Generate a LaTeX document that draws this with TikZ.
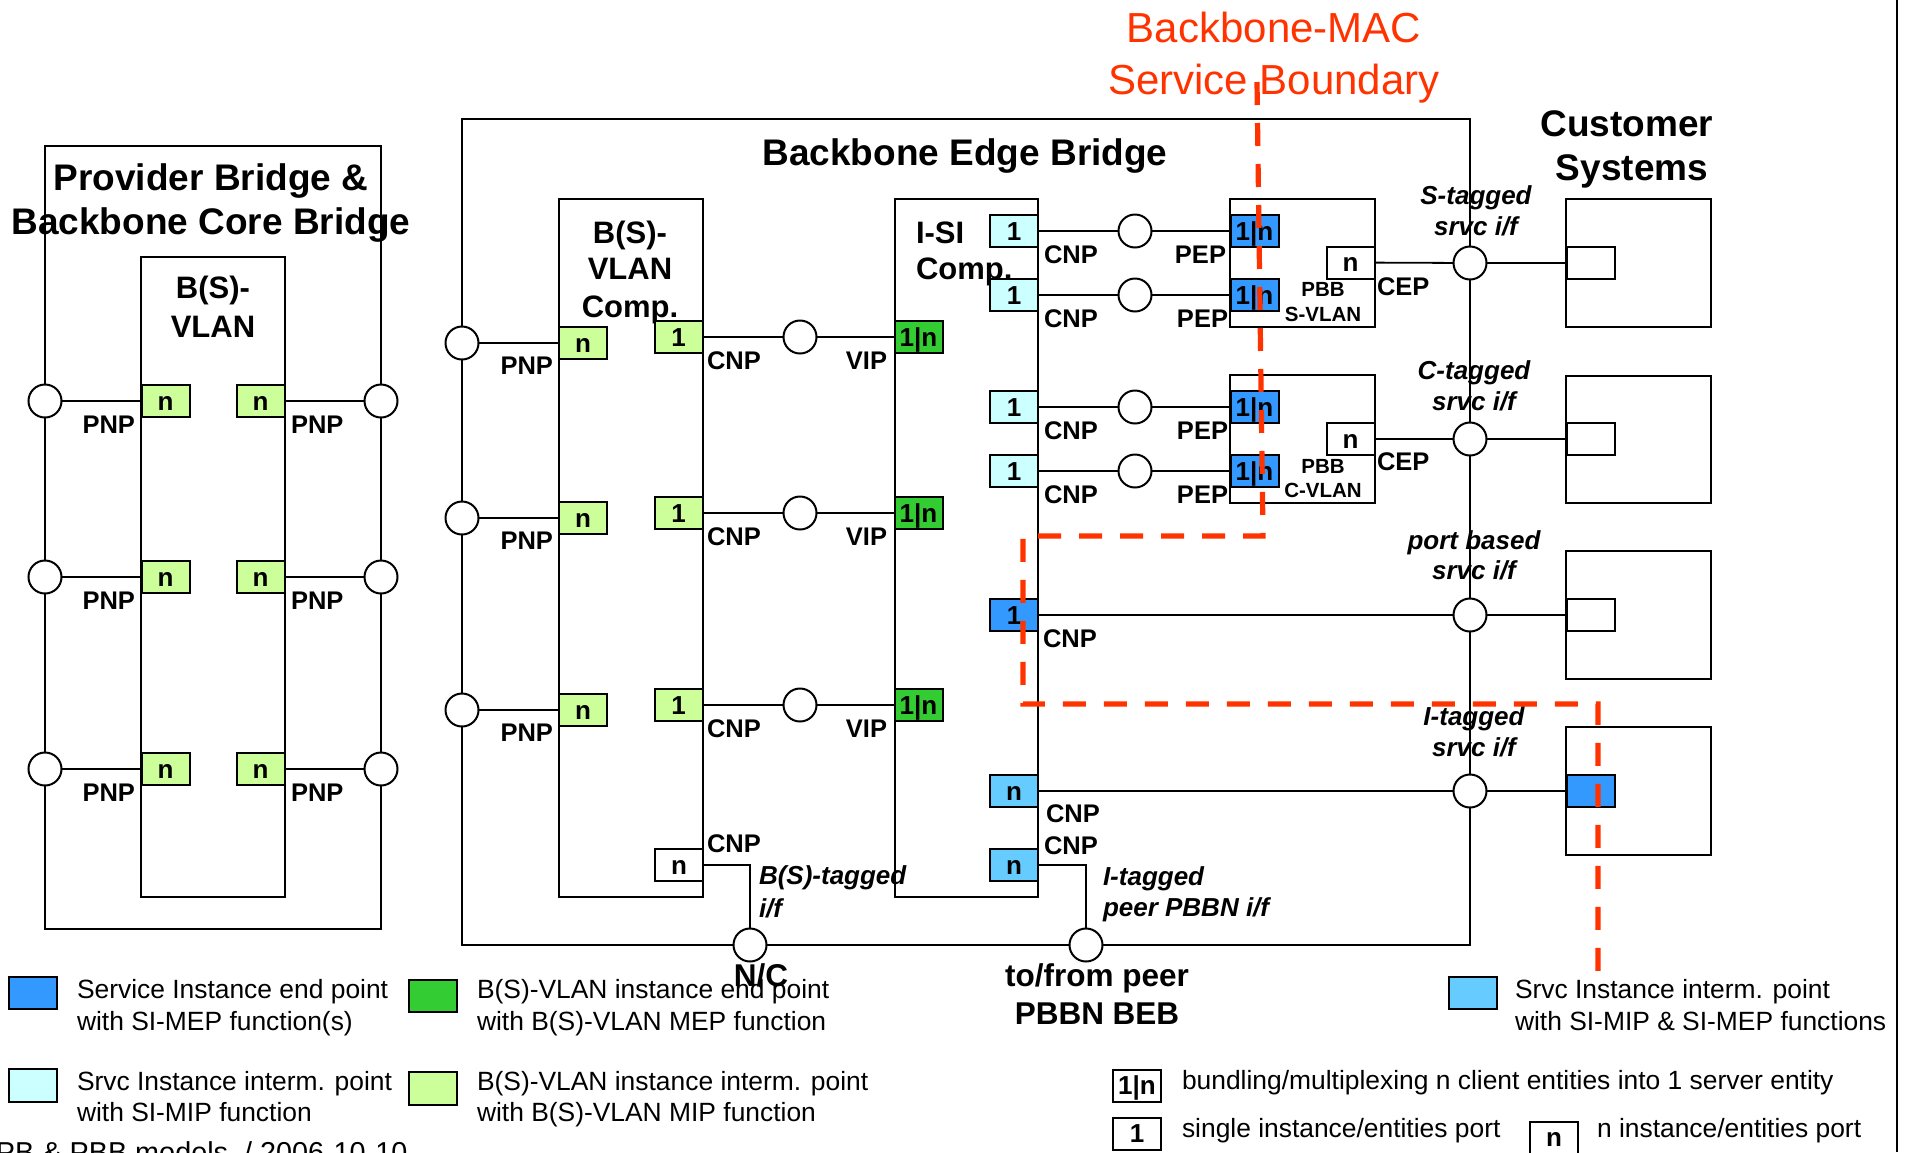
\documentclass[tikz,border=0pt]{standalone}
\usepackage{fontspec}
\setmainfont{Liberation Sans}
\usetikzlibrary{fit}
\definecolor{cBlue}{HTML}{3399FF}
\definecolor{cCyan}{HTML}{CCFFFF}
\definecolor{cGreen}{HTML}{33CC33}
\definecolor{cLGreen}{HTML}{CCFF99}
\definecolor{cLBlue}{HTML}{66CCFF}
\definecolor{cRed}{HTML}{FF3300}
\tikzset{
  every node/.style={inner sep=0pt, outer sep=0pt},
  fT/.style={font=\fontsize{18.5pt}{22pt}\selectfont\bfseries, text height=13.2pt, text depth=0pt},
  fC/.style={font=\fontsize{15.5pt}{18pt}\selectfont\bfseries, text height=11.1pt, text depth=0pt},
  fP/.style={font=\fontsize{12.75pt}{15pt}\selectfont\bfseries, text height=9.1pt, text depth=0pt},
  fS/.style={font=\fontsize{10.25pt}{12pt}\selectfont\bfseries, text height=7.3pt, text depth=0pt},
  fI/.style={font=\fontsize{13pt}{15pt}\selectfont\bfseries\itshape, text height=9.3pt, text depth=0pt},
  fB/.style={font=\fontsize{15.75pt}{18pt}\selectfont\bfseries, text height=11.3pt, text depth=0pt},
  fR/.style={font=\fontsize{21pt}{25pt}\selectfont, text=cRed, text height=15pt, text depth=0pt},
  fL/.style={font=\fontsize{13.2pt}{15pt}\selectfont, text height=9.45pt, text depth=0pt},
  fF/.style={font=\fontsize{14.4pt}{17pt}\selectfont, text height=10.3pt, text depth=0pt},
  cbox/.style={draw, line width=1pt},
  port/.style={draw, line width=1pt, minimum width=24pt, minimum height=16pt, font=\fontsize{13pt}{15pt}\selectfont\bfseries, text height=9.3pt, text depth=0pt},
  lgbox/.style={draw, line width=1.4pt, minimum width=24pt, minimum height=16pt},
  circ/.style={circle, draw, fill=white, line width=1pt, minimum size=16.5pt},
  conn/.style={line width=0.9pt},
  bound/.style={draw=cRed, line width=2.6pt, dash pattern=on 11.5pt off 9pt},
}
\begin{document}
\begin{tikzpicture}[x=0.5pt,y=-0.5pt]
\useasboundingbox (0,0) rectangle (1911,1152);

% ---------- Provider Bridge & Backbone Core Bridge ----------
\node[cbox, fit={(45,146)(381,929)}] (pb) {};
\node[cbox, fit={(141,257)(285,897)}] (pbv) {};
\node[fT] (pbt1) at (211,177) {Provider Bridge \&};
\node[fT] (pbt2) at (211,221.5) {Backbone Core Bridge};
\node[fC] (pbv1) at (213,287) {B(S)-};
\node[fC] (pbv2) at (213,326) {VLAN};
\foreach \y [count=\i] in {401,577,769}{
  \node[port, fill=cLGreen] (pbl\i) at (165.5,\y) {n};
  \node[port, fill=cLGreen] (pbr\i) at (260.5,\y) {n};
  \node[circ] (pbcl\i) at (45,\y) {};
  \node[circ] (pbcr\i) at (381,\y) {};
  \draw[conn] (pbcl\i) -- (pbl\i);
  \draw[conn] (pbr\i) -- (pbcr\i);
  \node[fP, anchor=east] (pbpl\i) at (135,\y+23) {PNP};
  \node[fP, anchor=west] (pbpr\i) at (291,\y+23) {PNP};
}

% ---------- Backbone Edge Bridge ----------
\node[cbox, fit={(462,119)(1470,945)}] (beb) {};
\node[fT] (bebt) at (965,152) {Backbone Edge Bridge};
\node[cbox, fit={(559,199)(703,897)}] (bsv) {};
\node[fC] (bsvt1) at (630,232) {B(S)-};
\node[fC] (bsvt2) at (630,268) {VLAN};
\node[fC] (bsvt3) at (630,306) {Comp.};
\node[cbox, fit={(895,199)(1038,897)}] (isi) {};
\node[fC, anchor=west] (isit1) at (916,232) {I-SI};
\node[fC, anchor=west] (isit2) at (916,268) {Comp.};

\foreach \yc/\yl [count=\i] in {343/337, 518/513, 710/705}{
  \node[circ] (pnp\i) at (462,\yc) {};
  \node[port, fill=cLGreen] (bn\i) at (583,\yc) {n};
  \node[port, fill=cLGreen] (bo\i) at (678.5,\yl) {1};
  \node[circ] (mc\i) at (800,\yl) {};
  \node[port, fill=cGreen] (vip\i) at (918.5,\yl) {1|n};
  \draw[conn] (pnp\i) -- (bn\i);
  \draw[conn] (bo\i) -- (mc\i) -- (vip\i);
  \node[fP, anchor=east] (lpnp\i) at (553,\yc+22) {PNP};
  \node[fP, anchor=west] (lcnp\i) at (707,\yl+23) {CNP};
  \node[fP, anchor=east] (lvip\i) at (887,\yl+23) {VIP};
}

% PBB components
\node[cbox, fit={(1230,199)(1375,327)}] (pbbs) {};
\node[cbox, fit={(1230,375)(1375,503)}] (pbbc) {};
\node[port, fill=white] (pbsn) at (1350.5,262.5) {n};
\node[port, fill=white] (pbcn) at (1350.5,439) {n};
\node[fS] (pbbs1) at (1323,289) {PBB};
\node[fS] (pbbs2) at (1323,314) {S-VLAN};
\node[fS] (pbbc1) at (1323,466) {PBB};
\node[fS] (pbbc2) at (1323,490) {C-VLAN};
\node[fP, anchor=west] (cep1) at (1377,286) {CEP};
\node[fP, anchor=west] (cep2) at (1377,461) {CEP};

\foreach \y/\px [count=\i] in {231/1226, 295/1228, 407/1228, 471/1228}{
  \node[port, fill=cCyan] (ci\i) at (1014,\y) {1};
  \node[circ] (pc\i) at (1135,\y) {};
  \node[port, fill=cBlue] (pe\i) at (1254.5,\y) {1|n};
  \draw[conn] (ci\i) -- (pc\i) -- (pe\i);
  \node[fP, anchor=west] (lcn\i) at (1044,\y+23) {CNP};
  \node[fP, anchor=east] (lpe\i) at (\px,\y+23) {PEP};
}

% Customer systems
\node[fT] (cust1) at (1627,123) {Customer};
\node[fT] (cust2) at (1632,167) {Systems};
\node[cbox, fit={(1566,199)(1711,327)}] (cs1) {};
\node[cbox, fit={(1566,375.5)(1711,503)}] (cs2) {};
\node[cbox, fit={(1566,551)(1711,679)}] (cs3) {};
\node[cbox, fit={(1566,726.5)(1711,855)}] (cs4) {};
\node[port, fill=white] (cp1) at (1590.5,263) {};
\node[port, fill=white] (cp2) at (1590.5,439) {};
\node[port, fill=white] (cp3) at (1590.5,615) {};
\node[port, fill=cBlue] (cp4) at (1590.5,791) {};
\node[circ] (sc1) at (1470,263) {};
\node[circ] (sc2) at (1470,439) {};
\node[circ] (sc3) at (1470,615) {};
\node[circ] (sc4) at (1470,791) {};

\node[port, fill=cBlue] (ib1) at (1014,615) {1};
\node[port, fill=cLBlue] (in1) at (1014,791) {n};
\node[port, fill=cLBlue] (in2) at (1014,865) {n};
\node[port, fill=white] (bwn) at (679,865) {n};
\node[circ] (nc) at (750,945) {};
\node[circ] (peer) at (1086,945) {};

\draw[conn] (pbsn) -- (sc1) -- (cp1);
\draw[conn] (pbcn) -- (sc2) -- (cp2);
\draw[conn] (ib1) -- (sc3) -- (cp3);
\draw[conn] (in1) -- (sc4) -- (cp4);
\draw[conn] (bwn) -| (nc);
\draw[conn] (in2) -| (peer);

\node[fP, anchor=west] (lcnA) at (1043,638) {CNP};
\node[fP, anchor=west] (lcnB) at (1046,813) {CNP};
\node[fP, anchor=west] (lcnC) at (1044,845) {CNP};
\node[fP, anchor=west] (lcnD) at (707,843) {CNP};

% italic interface labels
\node[fI] (st1) at (1476,195) {S-tagged};
\node[fI] (st2) at (1476,226) {srvc i/f};
\node[fI] (ct1) at (1474,370) {C-tagged};
\node[fI] (ct2) at (1474,401) {srvc i/f};
\node[fI] (pt1) at (1474,540) {port based};
\node[fI] (pt2) at (1474,570) {srvc i/f};
\node[fI] (it1) at (1474,716) {I-tagged};
\node[fI] (it2) at (1474,747) {srvc i/f};
\node[fI, anchor=west] (bt1) at (759,875) {B(S)-tagged};
\node[fI, anchor=west] (bt2) at (759,908) {i/f};
\node[fI, anchor=west] (ip1) at (1103,876) {I-tagged};
\node[fI, anchor=west] (ip2) at (1103,907) {peer PBBN i/f};

\node[fB] (ncl) at (761,975) {N/C};
\node[fB] (tf1) at (1097,975) {to/from peer};
\node[fB] (tf2) at (1097,1013) {PBBN BEB};

% Backbone-MAC service boundary
\node[fR] (bm1) at (1274,27) {Backbone-MAC};
\node[fR] (bm2) at (1274,79) {Service Boundary};
\draw[bound] (1257,82) -- (1263,536) -- (1023,536) -- (1023,704) -- (1598,704) -- (1598,975);

% right border
\draw[line width=1pt] (1897,0) -- (1897,1152);

% ---------- Legend ----------
\node[lgbox, fill=cBlue, fit={(9,977)(57,1009)}] (lg1) {};
\node[fL, anchor=west] (lg1a) at (77,989) {Service Instance end point};
\node[fL, anchor=west] (lg1b) at (77,1021) {with SI-MEP function(s)};
\node[lgbox, fill=cGreen, fit={(409,980)(457,1012)}] (lg2) {};
\node[fL, anchor=west] (lg2a) at (477,989) {B(S)-VLAN instance end point};
\node[fL, anchor=west] (lg2b) at (477,1021) {with B(S)-VLAN MEP function};
\node[lgbox, fill=cCyan, fit={(9,1069)(57,1102)}] (lg3) {};
\node[fL, anchor=west] (lg3a) at (77,1081) {Srvc Instance interm. point};
\node[fL, anchor=west] (lg3b) at (77,1112) {with SI-MIP function};
\node[lgbox, fill=cLGreen, fit={(409,1072)(457,1105)}] (lg4) {};
\node[fL, anchor=west] (lg4a) at (477,1081) {B(S)-VLAN instance interm. point};
\node[fL, anchor=west] (lg4b) at (477,1112) {with B(S)-VLAN MIP function};
\node[lgbox, fill=cLBlue, fit={(1449,977)(1497,1009)}] (lg5) {};
\node[fL, anchor=west] (lg5a) at (1515,989) {Srvc Instance interm. point};
\node[fL, anchor=west] (lg5b) at (1515,1021) {with SI-MIP \& SI-MEP functions};
\node[port] (lg6) at (1137,1085.5) {1|n};
\node[fL, anchor=west] (lg6a) at (1182,1080) {bundling/multiplexing n client entities into 1 server entity};
\node[port] (lg7) at (1137,1133.5) {1};
\node[fL, anchor=west] (lg7a) at (1182,1128) {single instance/entities port};
\node[port] (lg8) at (1554,1137.5) {n};
\node[fL, anchor=west] (lg8a) at (1597,1128) {n instance/entities port};
\node[fF, anchor=west] (foot) at (-4,1152) {PB \& PBB models \ / 2006-10-10};
\end{tikzpicture}
\end{document}
